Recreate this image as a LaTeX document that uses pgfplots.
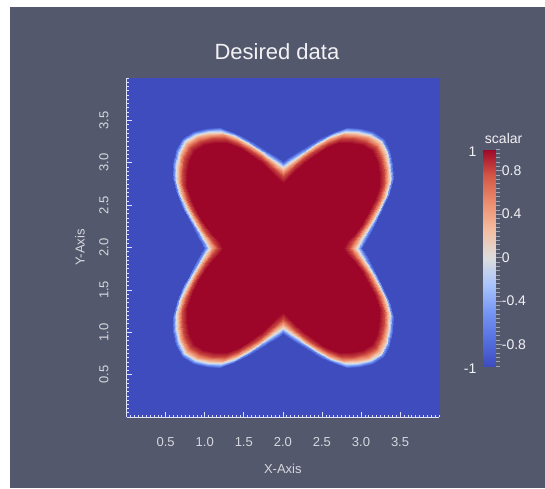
\documentclass[border=0pt]{standalone}
\usepackage{pgfplots}
\pgfplotsset{compat=1.18}
\usepackage{pgfplotstable}
\usepackage{fontspec}
\setmainfont{Liberation Sans}
\definecolor{bg}{RGB}{84,88,108}
\definecolor{tickc}{RGB}{222,224,248}
\definecolor{labc}{RGB}{214,215,222}
\definecolor{cbtick}{RGB}{165,166,178}
\definecolor{wtxt}{RGB}{242,242,245}
\pgfplotsset{colormap={cw}{rgb255=(62,76,190) rgb255=(86,113,224) rgb255=(118,150,244) rgb255=(169,196,252) rgb255=(221,221,221) rgb255=(244,190,162) rgb255=(236,143,112) rgb255=(212,88,70) rgb255=(157,6,40)}}
% scalar field: rings of (angle, radius, value) around the centre (2,2)
\pgfplotstableread[row sep=\\]{
t r m\\
0 0 1\\ 5 0 1\\ 10 0 1\\ 15 0 1\\ 20 0 1\\ 25 0 1\\ 30 0 1\\ 35 0 1\\ 40 0 1\\ 45 0 1\\ 50 0 1\\ 55 0 1\\ 60 0 1\\ 65 0 1\\ 70 0 1\\ 75 0 1\\ 80 0 1\\ 85 0 1\\ 90 0 1\\
95 0 1\\ 100 0 1\\ 105 0 1\\ 110 0 1\\ 115 0 1\\ 120 0 1\\ 125 0 1\\ 130 0 1\\ 135 0 1\\ 140 0 1\\ 145 0 1\\ 150 0 1\\ 155 0 1\\ 160 0 1\\ 165 0 1\\ 170 0 1\\ 175 0 1\\ 180 0 1\\
185 0 1\\ 190 0 1\\ 195 0 1\\ 200 0 1\\ 205 0 1\\ 210 0 1\\ 215 0 1\\ 220 0 1\\ 225 0 1\\ 230 0 1\\ 235 0 1\\ 240 0 1\\ 245 0 1\\ 250 0 1\\ 255 0 1\\ 260 0 1\\ 265 0 1\\ 270 0 1\\
275 0 1\\ 280 0 1\\ 285 0 1\\ 290 0 1\\ 295 0 1\\ 300 0 1\\ 305 0 1\\ 310 0 1\\ 315 0 1\\ 320 0 1\\ 325 0 1\\ 330 0 1\\ 335 0 1\\ 340 0 1\\ 345 0 1\\ 350 0 1\\ 355 0 1\\ 360 0 1\\
0 0.766 1\\ 5 0.826 1\\ 10 0.922 1\\ 15 1.03 1\\ 20 1.15 1\\ 25 1.29 1\\ 30 1.42 1\\ 35 1.505 1\\ 40 1.575 1\\ 45 1.61 1\\ 50 1.575 1\\ 55 1.505 1\\ 60 1.42 1\\ 65 1.29 1\\ 70 1.15 1\\ 75 1.03 1\\ 80 0.922 1\\ 85 0.826 1\\ 90 0.766 1\\
95 0.826 1\\ 100 0.922 1\\ 105 1.03 1\\ 110 1.15 1\\ 115 1.29 1\\ 120 1.42 1\\ 125 1.505 1\\ 130 1.575 1\\ 135 1.61 1\\ 140 1.575 1\\ 145 1.505 1\\ 150 1.42 1\\ 155 1.29 1\\ 160 1.15 1\\ 165 1.03 1\\ 170 0.922 1\\ 175 0.826 1\\ 180 0.766 1\\
185 0.826 1\\ 190 0.922 1\\ 195 1.03 1\\ 200 1.15 1\\ 205 1.29 1\\ 210 1.42 1\\ 215 1.505 1\\ 220 1.575 1\\ 225 1.61 1\\ 230 1.575 1\\ 235 1.505 1\\ 240 1.42 1\\ 245 1.29 1\\ 250 1.15 1\\ 255 1.03 1\\ 260 0.922 1\\ 265 0.826 1\\ 270 0.766 1\\
275 0.826 1\\ 280 0.922 1\\ 285 1.03 1\\ 290 1.15 1\\ 295 1.29 1\\ 300 1.42 1\\ 305 1.505 1\\ 310 1.575 1\\ 315 1.61 1\\ 320 1.575 1\\ 325 1.505 1\\ 330 1.42 1\\ 335 1.29 1\\ 340 1.15 1\\ 345 1.03 1\\ 350 0.922 1\\ 355 0.826 1\\ 360 0.766 1\\
0 0.847 0.8\\ 5 0.907 0.8\\ 10 0.996 0.8\\ 15 1.10 0.8\\ 20 1.22 0.8\\ 25 1.36 0.8\\ 30 1.49 0.8\\ 35 1.575 0.8\\ 40 1.645 0.8\\ 45 1.68 0.8\\ 50 1.645 0.8\\ 55 1.575 0.8\\ 60 1.49 0.8\\ 65 1.36 0.8\\ 70 1.22 0.8\\ 75 1.10 0.8\\ 80 0.996 0.8\\ 85 0.907 0.8\\ 90 0.847 0.8\\
95 0.907 0.8\\ 100 0.996 0.8\\ 105 1.10 0.8\\ 110 1.22 0.8\\ 115 1.36 0.8\\ 120 1.49 0.8\\ 125 1.575 0.8\\ 130 1.645 0.8\\ 135 1.68 0.8\\ 140 1.645 0.8\\ 145 1.575 0.8\\ 150 1.49 0.8\\ 155 1.36 0.8\\ 160 1.22 0.8\\ 165 1.10 0.8\\ 170 0.996 0.8\\ 175 0.907 0.8\\ 180 0.847 0.8\\
185 0.907 0.8\\ 190 0.996 0.8\\ 195 1.10 0.8\\ 200 1.22 0.8\\ 205 1.36 0.8\\ 210 1.49 0.8\\ 215 1.575 0.8\\ 220 1.645 0.8\\ 225 1.68 0.8\\ 230 1.645 0.8\\ 235 1.575 0.8\\ 240 1.49 0.8\\ 245 1.36 0.8\\ 250 1.22 0.8\\ 255 1.10 0.8\\ 260 0.996 0.8\\ 265 0.907 0.8\\ 270 0.847 0.8\\
275 0.907 0.8\\ 280 0.996 0.8\\ 285 1.10 0.8\\ 290 1.22 0.8\\ 295 1.36 0.8\\ 300 1.49 0.8\\ 305 1.575 0.8\\ 310 1.645 0.8\\ 315 1.68 0.8\\ 320 1.645 0.8\\ 325 1.575 0.8\\ 330 1.49 0.8\\ 335 1.36 0.8\\ 340 1.22 0.8\\ 345 1.10 0.8\\ 350 0.996 0.8\\ 355 0.907 0.8\\ 360 0.847 0.8\\
0 0.904 0.42\\ 5 0.964 0.42\\ 10 1.048 0.42\\ 15 1.15 0.42\\ 20 1.27 0.42\\ 25 1.41 0.42\\ 30 1.54 0.42\\ 35 1.625 0.42\\ 40 1.695 0.42\\ 45 1.73 0.42\\ 50 1.695 0.42\\ 55 1.625 0.42\\ 60 1.54 0.42\\ 65 1.41 0.42\\ 70 1.27 0.42\\ 75 1.15 0.42\\ 80 1.048 0.42\\ 85 0.964 0.42\\ 90 0.904 0.42\\
95 0.964 0.42\\ 100 1.048 0.42\\ 105 1.15 0.42\\ 110 1.27 0.42\\ 115 1.41 0.42\\ 120 1.54 0.42\\ 125 1.625 0.42\\ 130 1.695 0.42\\ 135 1.73 0.42\\ 140 1.695 0.42\\ 145 1.625 0.42\\ 150 1.54 0.42\\ 155 1.41 0.42\\ 160 1.27 0.42\\ 165 1.15 0.42\\ 170 1.048 0.42\\ 175 0.964 0.42\\ 180 0.904 0.42\\
185 0.964 0.42\\ 190 1.048 0.42\\ 195 1.15 0.42\\ 200 1.27 0.42\\ 205 1.41 0.42\\ 210 1.54 0.42\\ 215 1.625 0.42\\ 220 1.695 0.42\\ 225 1.73 0.42\\ 230 1.695 0.42\\ 235 1.625 0.42\\ 240 1.54 0.42\\ 245 1.41 0.42\\ 250 1.27 0.42\\ 255 1.15 0.42\\ 260 1.048 0.42\\ 265 0.964 0.42\\ 270 0.904 0.42\\
275 0.964 0.42\\ 280 1.048 0.42\\ 285 1.15 0.42\\ 290 1.27 0.42\\ 295 1.41 0.42\\ 300 1.54 0.42\\ 305 1.625 0.42\\ 310 1.695 0.42\\ 315 1.73 0.42\\ 320 1.695 0.42\\ 325 1.625 0.42\\ 330 1.54 0.42\\ 335 1.41 0.42\\ 340 1.27 0.42\\ 345 1.15 0.42\\ 350 1.048 0.42\\ 355 0.964 0.42\\ 360 0.904 0.42\\
0 0.95 0\\ 5 1.01 0\\ 10 1.09 0\\ 15 1.19 0\\ 20 1.31 0\\ 25 1.45 0\\ 30 1.58 0\\ 35 1.665 0\\ 40 1.735 0\\ 45 1.77 0\\ 50 1.735 0\\ 55 1.665 0\\ 60 1.58 0\\ 65 1.45 0\\ 70 1.31 0\\ 75 1.19 0\\ 80 1.09 0\\ 85 1.01 0\\ 90 0.95 0\\
95 1.01 0\\ 100 1.09 0\\ 105 1.19 0\\ 110 1.31 0\\ 115 1.45 0\\ 120 1.58 0\\ 125 1.665 0\\ 130 1.735 0\\ 135 1.77 0\\ 140 1.735 0\\ 145 1.665 0\\ 150 1.58 0\\ 155 1.45 0\\ 160 1.31 0\\ 165 1.19 0\\ 170 1.09 0\\ 175 1.01 0\\ 180 0.95 0\\
185 1.01 0\\ 190 1.09 0\\ 195 1.19 0\\ 200 1.31 0\\ 205 1.45 0\\ 210 1.58 0\\ 215 1.665 0\\ 220 1.735 0\\ 225 1.77 0\\ 230 1.735 0\\ 235 1.665 0\\ 240 1.58 0\\ 245 1.45 0\\ 250 1.31 0\\ 255 1.19 0\\ 260 1.09 0\\ 265 1.01 0\\ 270 0.95 0\\
275 1.01 0\\ 280 1.09 0\\ 285 1.19 0\\ 290 1.31 0\\ 295 1.45 0\\ 300 1.58 0\\ 305 1.665 0\\ 310 1.735 0\\ 315 1.77 0\\ 320 1.735 0\\ 325 1.665 0\\ 330 1.58 0\\ 335 1.45 0\\ 340 1.31 0\\ 345 1.19 0\\ 350 1.09 0\\ 355 1.01 0\\ 360 0.95 0\\
0 0.985 -0.55\\ 5 1.045 -0.55\\ 10 1.122 -0.55\\ 15 1.22 -0.55\\ 20 1.34 -0.55\\ 25 1.48 -0.55\\ 30 1.61 -0.55\\ 35 1.695 -0.55\\ 40 1.765 -0.55\\ 45 1.80 -0.55\\ 50 1.765 -0.55\\ 55 1.695 -0.55\\ 60 1.61 -0.55\\ 65 1.48 -0.55\\ 70 1.34 -0.55\\ 75 1.22 -0.55\\ 80 1.122 -0.55\\ 85 1.045 -0.55\\ 90 0.985 -0.55\\
95 1.045 -0.55\\ 100 1.122 -0.55\\ 105 1.22 -0.55\\ 110 1.34 -0.55\\ 115 1.48 -0.55\\ 120 1.61 -0.55\\ 125 1.695 -0.55\\ 130 1.765 -0.55\\ 135 1.80 -0.55\\ 140 1.765 -0.55\\ 145 1.695 -0.55\\ 150 1.61 -0.55\\ 155 1.48 -0.55\\ 160 1.34 -0.55\\ 165 1.22 -0.55\\ 170 1.122 -0.55\\ 175 1.045 -0.55\\ 180 0.985 -0.55\\
185 1.045 -0.55\\ 190 1.122 -0.55\\ 195 1.22 -0.55\\ 200 1.34 -0.55\\ 205 1.48 -0.55\\ 210 1.61 -0.55\\ 215 1.695 -0.55\\ 220 1.765 -0.55\\ 225 1.80 -0.55\\ 230 1.765 -0.55\\ 235 1.695 -0.55\\ 240 1.61 -0.55\\ 245 1.48 -0.55\\ 250 1.34 -0.55\\ 255 1.22 -0.55\\ 260 1.122 -0.55\\ 265 1.045 -0.55\\ 270 0.985 -0.55\\
275 1.045 -0.55\\ 280 1.122 -0.55\\ 285 1.22 -0.55\\ 290 1.34 -0.55\\ 295 1.48 -0.55\\ 300 1.61 -0.55\\ 305 1.695 -0.55\\ 310 1.765 -0.55\\ 315 1.80 -0.55\\ 320 1.765 -0.55\\ 325 1.695 -0.55\\ 330 1.61 -0.55\\ 335 1.48 -0.55\\ 340 1.34 -0.55\\ 345 1.22 -0.55\\ 350 1.122 -0.55\\ 355 1.045 -0.55\\ 360 0.985 -0.55\\
0 1.019 -1\\ 5 1.079 -1\\ 10 1.153 -1\\ 15 1.25 -1\\ 20 1.37 -1\\ 25 1.51 -1\\ 30 1.64 -1\\ 35 1.725 -1\\ 40 1.795 -1\\ 45 1.83 -1\\ 50 1.795 -1\\ 55 1.725 -1\\ 60 1.64 -1\\ 65 1.51 -1\\ 70 1.37 -1\\ 75 1.25 -1\\ 80 1.153 -1\\ 85 1.079 -1\\ 90 1.019 -1\\
95 1.079 -1\\ 100 1.153 -1\\ 105 1.25 -1\\ 110 1.37 -1\\ 115 1.51 -1\\ 120 1.64 -1\\ 125 1.725 -1\\ 130 1.795 -1\\ 135 1.83 -1\\ 140 1.795 -1\\ 145 1.725 -1\\ 150 1.64 -1\\ 155 1.51 -1\\ 160 1.37 -1\\ 165 1.25 -1\\ 170 1.153 -1\\ 175 1.079 -1\\ 180 1.019 -1\\
185 1.079 -1\\ 190 1.153 -1\\ 195 1.25 -1\\ 200 1.37 -1\\ 205 1.51 -1\\ 210 1.64 -1\\ 215 1.725 -1\\ 220 1.795 -1\\ 225 1.83 -1\\ 230 1.795 -1\\ 235 1.725 -1\\ 240 1.64 -1\\ 245 1.51 -1\\ 250 1.37 -1\\ 255 1.25 -1\\ 260 1.153 -1\\ 265 1.079 -1\\ 270 1.019 -1\\
275 1.079 -1\\ 280 1.153 -1\\ 285 1.25 -1\\ 290 1.37 -1\\ 295 1.51 -1\\ 300 1.64 -1\\ 305 1.725 -1\\ 310 1.795 -1\\ 315 1.83 -1\\ 320 1.795 -1\\ 325 1.725 -1\\ 330 1.64 -1\\ 335 1.51 -1\\ 340 1.37 -1\\ 345 1.25 -1\\ 350 1.153 -1\\ 355 1.079 -1\\ 360 1.019 -1\\
0 3 -1\\ 5 3 -1\\ 10 3 -1\\ 15 3 -1\\ 20 3 -1\\ 25 3 -1\\ 30 3 -1\\ 35 3 -1\\ 40 3 -1\\ 45 3 -1\\ 50 3 -1\\ 55 3 -1\\ 60 3 -1\\ 65 3 -1\\ 70 3 -1\\ 75 3 -1\\ 80 3 -1\\ 85 3 -1\\ 90 3 -1\\
95 3 -1\\ 100 3 -1\\ 105 3 -1\\ 110 3 -1\\ 115 3 -1\\ 120 3 -1\\ 125 3 -1\\ 130 3 -1\\ 135 3 -1\\ 140 3 -1\\ 145 3 -1\\ 150 3 -1\\ 155 3 -1\\ 160 3 -1\\ 165 3 -1\\ 170 3 -1\\ 175 3 -1\\ 180 3 -1\\
185 3 -1\\ 190 3 -1\\ 195 3 -1\\ 200 3 -1\\ 205 3 -1\\ 210 3 -1\\ 215 3 -1\\ 220 3 -1\\ 225 3 -1\\ 230 3 -1\\ 235 3 -1\\ 240 3 -1\\ 245 3 -1\\ 250 3 -1\\ 255 3 -1\\ 260 3 -1\\ 265 3 -1\\ 270 3 -1\\
275 3 -1\\ 280 3 -1\\ 285 3 -1\\ 290 3 -1\\ 295 3 -1\\ 300 3 -1\\ 305 3 -1\\ 310 3 -1\\ 315 3 -1\\ 320 3 -1\\ 325 3 -1\\ 330 3 -1\\ 335 3 -1\\ 340 3 -1\\ 345 3 -1\\ 350 3 -1\\ 355 3 -1\\ 360 3 -1\\
}\field
\begin{document}
\begin{tikzpicture}
\fill[white] (0,0) rectangle (545pt,488pt);
\fill[bg] (10pt,0) rectangle (545pt,481pt);
\begin{axis}[
  at={(126.6pt,71pt)}, anchor=south west,
  scale only axis, width=312.5pt, height=339pt,
  xmin=-2, xmax=2, ymin=-2, ymax=2,
  axis lines*=left,
  axis line style={draw=tickc, line width=0.8pt},
  axis on top,
  tick align=inside,
  xtick={-1.5,-1,-0.5,0,0.5,1,1.5},
  ytick={-1.5,-1,-0.5,0,0.5,1,1.5},
  xticklabels={0.5,1.0,1.5,2.0,2.5,3.0,3.5},
  yticklabels={0.5,1.0,1.5,2.0,2.5,3.0,3.5},
  minor xtick={-2,-1.95,...,2},
  minor ytick={-2,-1.95,...,2},
  major tick length=5pt, minor tick length=2.5pt,
  tick style={draw=tickc, line width=0.6pt},
  tick label style={font=\fontsize{13}{13}\selectfont, text=labc},
  xticklabel style={anchor=north, inner sep=0pt, yshift=-20pt},
  yticklabel style={xshift=-18pt, rotate=90, anchor=south, inner sep=0pt},
  xlabel={X-Axis}, ylabel={Y-Axis},
  label style={font=\fontsize{13}{13}\selectfont, text=labc},
  xlabel style={at={(axis description cs:0.5,0)}, anchor=center, yshift=-52pt},
  ylabel style={at={(axis description cs:-0.149,0.5)}, anchor=center},
  title={Desired data},
  title style={at={(axis description cs:0.481,1.06)}, anchor=center, font=\fontsize{22}{22}\selectfont, text=wtxt},
  colormap name=cw,
  point meta min=-1, point meta max=1,
  colorbar,
  colorbar style={
    at={(parent axis.south east)}, anchor=south west,
    xshift=36pt, yshift=51pt,
    scale only axis, width=12pt, height=217pt,
    ytick={-0.8,-0.4,0,0.4,0.8},
    yticklabels={-0.8,-0.4,0,0.4,0.8},
    minor ytick={-1,-0.96,...,1},
    ytick pos=right,
    tick align=outside,
    major tick length=6pt, minor tick length=4pt,
    tick style={draw=cbtick, line width=0.5pt},
    axis line style={draw=none},
    yticklabel style={font=\fontsize{14}{14}\selectfont, text=wtxt, anchor=west, inner sep=0pt, xshift=0pt},
    extra y ticks={-1,1},
    extra y tick labels={-1,1},
    extra y tick style={yticklabel pos=left, major tick length=0pt, yticklabel style={anchor=east, xshift=-7pt, yshift=-3pt}},
    title={scalar},
    title style={font=\fontsize{14}{14}\selectfont, text=wtxt, at={(0.5,1)}, anchor=south, xshift=14pt, yshift=-4pt},
  },
  /pgf/number format/assume math mode=true,
]
\addplot[surf, shader=interp, data cs=polar, mesh/cols=73, point meta=explicit] table[x=t, y=r, meta=m] {\field};
\end{axis}
\end{tikzpicture}
\end{document}
